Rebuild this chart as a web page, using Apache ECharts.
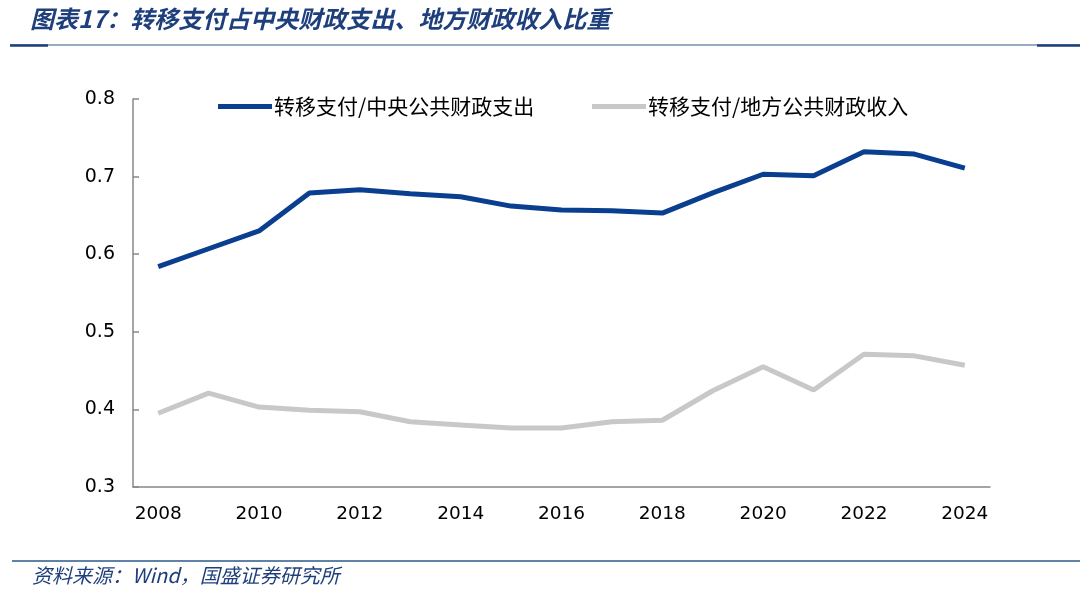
<!DOCTYPE html>
<html><head><meta charset="utf-8">
<script src="https://cdn.jsdelivr.net/npm/echarts@6/dist/echarts.min.js"></script>
<style>html,body{margin:0;padding:0;background:#fff;}#c{width:1080px;height:616px;}</style>
</head><body><div id="c"></div>
<script>
const years = ['2008','2009','2010','2011','2012','2013','2014','2015','2016','2017','2018','2019','2020','2021','2022','2023','2024'];
const centralRatio = [0.584,0.607,0.630,0.679,0.683,0.678,0.674,0.662,0.657,0.656,0.653,0.679,0.703,0.701,0.732,0.729,0.711];
const localRatio = [0.395,0.421,0.403,0.399,0.397,0.384,0.380,0.376,0.376,0.384,0.386,0.424,0.455,0.425,0.471,0.469,0.457];
const seriesNames = ['转移支付/中央公共财政支出','转移支付/地方公共财政收入'];
const titleText = '图表17：转移支付占中央财政支出、地方财政收入比重';
const sourceText = '资料来源：Wind，国盛证券研究所';

const chart = echarts.init(document.getElementById('c'));
const cjk = '"Noto Sans CJK SC", "Noto Sans", sans-serif';
const legendCommon = {
  top: 91, itemWidth: 54, itemHeight: 5, icon: 'rect',
  textStyle: { fontSize: 21, color: '#000', fontFamily: cjk, padding: [0,0,0,-3] }
};
chart.setOption({
  animation: false,
  backgroundColor: '#fff',
  textStyle: { fontFamily: cjk },
  legend: [
    Object.assign({ left: 213, data: [seriesNames[0]] }, legendCommon),
    Object.assign({ left: 587, data: [seriesNames[1]] }, legendCommon)
  ],
  grid: { left: 133, right: 90, top: 99, bottom: 129 },
  xAxis: {
    type: 'category', data: years, boundaryGap: true,
    axisLine: { lineStyle: { color: '#888', width: 1.5 } },
    axisTick: { inside: true, length: 6, interval: 1, lineStyle: { color: '#888', width: 1.5 } },
    axisLabel: { interval: 1, fontSize: 18.5, color: '#000', margin: 18, fontFamily: '"DejaVu Sans", sans-serif' }
  },
  yAxis: {
    type: 'value', min: 0.3, max: 0.8, interval: 0.1,
    splitLine: { show: false },
    axisLine: { show: true, lineStyle: { color: '#888', width: 1.5 } },
    axisTick: { show: true, inside: true, length: 6, lineStyle: { color: '#888', width: 1.5 } },
    axisLabel: { fontSize: 19, color: '#000', margin: 18, formatter: v => v.toFixed(1), fontFamily: '"DejaVu Sans", sans-serif' }
  },
  series: [
    { name: seriesNames[0], type: 'line', data: centralRatio, symbol: 'none',
      lineStyle: { color: '#0a3e8f', width: 5 }, itemStyle: { color: '#0a3e8f' } },
    { name: seriesNames[1], type: 'line', data: localRatio, symbol: 'none',
      lineStyle: { color: '#c8c8c8', width: 5 }, itemStyle: { color: '#c8c8c8' } }
  ],
  graphic: [
    { type: 'text', left: 30, top: 7, style: { text: titleText, font: 'italic bold 24px ' + cjk, fill: '#1e3f7c' } },
    { type: 'line', shape: { x1: 10, y1: 45, x2: 1080, y2: 45 }, style: { stroke: '#2a5a8a', lineWidth: 1.2 } },
    { type: 'line', shape: { x1: 10, y1: 45.5, x2: 48, y2: 45.5 }, style: { stroke: '#1e3f7c', lineWidth: 2.5 } },
    { type: 'line', shape: { x1: 1037, y1: 45.5, x2: 1080, y2: 45.5 }, style: { stroke: '#1e3f7c', lineWidth: 2.5 } },
    { type: 'line', shape: { x1: 12, y1: 561, x2: 1080, y2: 561 }, style: { stroke: '#2a5a8a', lineWidth: 1.5 } },
    { type: 'text', left: 32, top: 565, style: { text: sourceText, font: 'italic 20px ' + cjk, fill: '#1e3f7c' } }
  ]
});
</script></body></html>
